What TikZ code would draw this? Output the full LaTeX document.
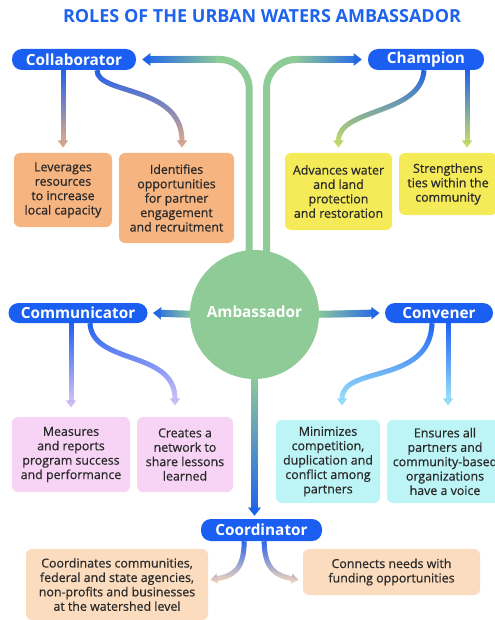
\documentclass[tikz,border=0pt]{standalone}
\usepackage{fontspec}
\setmainfont{Open Sans}
\newfontfamily\cardfont[FakeBold=0.6]{Open Sans}
\usetikzlibrary{arrows.meta,fadings,backgrounds}
\definecolor{uwblue}{HTML}{1A5EF2}
\definecolor{ttlblue}{HTML}{1E63EE}
\definecolor{uwgreen}{HTML}{8FCB97}
\definecolor{orbox}{HTML}{F6B480}
\definecolor{yebox}{HTML}{F5EA58}
\definecolor{pibox}{HTML}{F7D4F5}
\definecolor{cybox}{HTML}{BDF4F6}
\definecolor{pebox}{HTML}{FBDCBE}
\definecolor{orend}{HTML}{F1B381}
\definecolor{yeend}{HTML}{D9EC5A}
\definecolor{piend}{HTML}{E6CBF7}
\definecolor{cyend}{HTML}{A9F0FA}
\definecolor{peend}{HTML}{F9D8BA}
\definecolor{txt}{HTML}{2A2A2A}
\tikzfading[name=fadeTB, top color=transparent!0, bottom color=transparent!100]
\tikzfading[name=fadeBT, top color=transparent!100, bottom color=transparent!0]
\tikzfading[name=fadeLR, left color=transparent!0, right color=transparent!100]
\tikzfading[name=fadeRL, left color=transparent!100, right color=transparent!0]
\begin{document}
\begin{tikzpicture}[x=0.75pt,y=-0.75pt,
  sz/.style 2 args={minimum width=#1*0.75pt, minimum height=#2*0.75pt},
  ttl/.style={text=ttlblue, font=\fontsize{13.5}{16}\selectfont\bfseries, inner sep=0pt},
  pill/.style={fill=uwblue, text=white, rounded corners=7.5pt, inner sep=0pt,
    font=\fontsize{11.5}{13}\selectfont\bfseries},
  card/.style={rounded corners=4.5pt, inner sep=0pt, align=center, text=txt,
    font=\cardfont\fontsize{9.3}{10.8}\selectfont},
  mainln/.style={line width=5.25pt, uwgreen, -{Triangle[width=9pt,length=6pt]}},
  blueln/.style={line width=5.25pt, uwblue, -{Triangle[width=9pt,length=6pt]}, path fading=#1},
  kid/.style={line width=3.75pt, #1, -{Triangle[width=7.5pt,length=5.5pt]},
    postaction={draw, uwblue, path fading=fadeTB}}]
\useasboundingbox (0,0) rectangle (494,620);
\node[ttl] (title) at (262,16) {ROLES OF THE URBAN WATERS AMBASSADOR};
% role pills
\node[pill, sz={124}{21}] (collab) at (74,59.5) {Collaborator};
\node[pill, sz={116}{21}] (champ) at (426,59.5) {Champion};
\node[pill, sz={139}{20}] (comm) at (78,313) {Communicator};
\node[pill, sz={108}{20}] (conv) at (439,313) {Convener};
\node[pill, sz={121}{22}] (coord) at (261.5,530) {Coordinator};
\node[circle, fill=uwgreen, minimum size=129*0.75pt, inner sep=0pt, text=white,
  text depth=4pt, font=\fontsize{11.5}{13}\selectfont\bfseries] (amb) at (254.5,314.5) {Ambassador};
% cards
\node[card, fill=orbox, sz={98}{74}] (b1) at (63,190) {Leverages\\resources\\to increase\\local capacity};
\node[card, fill=orbox, sz={115}{90}] (b2) at (176.5,198) {Identifies\\opportunities\\for partner\\engagement\\and recruitment};
\node[card, fill=yebox, sz={107}{77}] (b3) at (338.5,191.5) {Advances water\\and land\\protection\\and restoration};
\node[card, fill=yebox, sz={98}{62}] (b4) at (448,184) {Strengthens\\ties within the\\community};
\node[card, fill=pibox, sz={118}{75}] (b5) at (71,454.5) {Measures\\and reports\\program success\\and performance};
\node[card, fill=pibox, sz={96}{75}] (b6) at (185,454.5) {Creates a\\network to\\share lessons\\learned};
\node[card, fill=cybox, sz={104}{83}] (b7) at (328,461.5) {Minimizes\\competition,\\duplication and\\conflict among\\partners};
\node[card, fill=cybox, sz={116}{83}] (b8) at (445,461.5) {Ensures all\\partners and\\community-based\\organizations\\have a voice};
\node[card, fill=pebox, sz={182}{71}] (b9) at (117,584.5) {Coordinates communities,\\federal and state agencies,\\non-profits and businesses\\at the watershed level};
\node[card, fill=pebox, sz={177}{46}] (b10) at (391.5,572) {Connects needs with\\funding opportunities};
\coordinate (vt) at (amb.south |- coord.north);
% main connectors from the Ambassador
\begin{scope}[on background layer]
\draw[mainln, rounded corners=22pt] ([xshift=-4pt,yshift=-8pt]amb.north) |- ([xshift=4.5pt]collab.east);
\draw[blueln=fadeLR] ([xshift=60pt]collab.east) -- ([xshift=4.5pt]collab.east);
\draw[mainln, rounded corners=22pt] ([xshift=9pt,yshift=-8pt]amb.north) |- ([xshift=-4.5pt]champ.west);
\draw[blueln=fadeRL] ([xshift=-52pt]champ.west) -- ([xshift=-4.5pt]champ.west);
\draw[mainln] ([xshift=8pt]amb.west) -- ([xshift=4pt]comm.east);
\draw[blueln=fadeLR] (amb.west) -- ([xshift=4pt]comm.east);
\draw[mainln] ([xshift=-8pt]amb.east) -- ([xshift=-4pt]conv.west);
\draw[blueln=fadeRL] (amb.east) -- ([xshift=-4pt]conv.west);
\draw[mainln] ([yshift=8pt]amb.south) -- ([yshift=2.25pt]vt);
\draw[blueln=fadeBT] (amb.south) -- ([yshift=2.25pt]vt);
\end{scope}
% role to task connectors
\draw[kid=orend] (b1.north |- collab.south) -- ([yshift=3.75pt]b1.north);
\draw[kid=orend] ([xshift=17.25pt]collab.south) .. controls +(0,25) and +(0,-63) .. ([xshift=4.1pt,yshift=3.75pt]b2.north);
\draw[kid=yeend] ([xshift=-1.5pt]champ.south) .. controls +(-3,45) and +(0,-40) .. ([yshift=3.75pt]b3.north);
\draw[kid=yeend] ([xshift=30.75pt]champ.south) -- ([xshift=14.25pt,yshift=3.75pt]b4.north);
\draw[kid=piend] ([xshift=-5.25pt]comm.south) -- ([yshift=6.75pt]b5.north);
\draw[kid=piend] ([xshift=9pt]comm.south) .. controls +(2,42) and +(0,-56) .. ([xshift=-7.5pt,yshift=8.25pt]b6.north);
\draw[kid=cyend] ([xshift=-5.25pt]conv.south) .. controls +(-2,62) and +(0,-41) .. ([xshift=10.5pt,yshift=10.5pt]b7.north);
\draw[kid=cyend] ([xshift=6.75pt]conv.south) -- ([xshift=2.25pt,yshift=10.5pt]b8.north);
\draw[kid=peend] ([xshift=-13pt]coord.south) .. controls +(0,29) and +(22,-4) .. ([xshift=1.5pt,yshift=3.4pt]b9.east);
\draw[kid=peend] ([xshift=2pt]coord.south) .. controls +(0,29) and +(-21,-4) .. ([xshift=-3pt,yshift=-6pt]b10.west);
\end{tikzpicture}
\end{document}
